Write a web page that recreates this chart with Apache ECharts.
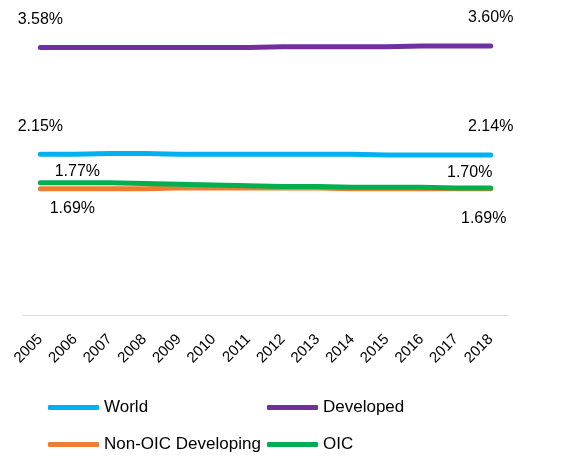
<!DOCTYPE html>
<html><head><meta charset="utf-8">
<script src="https://cdn.jsdelivr.net/npm/echarts@6/dist/echarts.min.js"></script>
<style>html,body{margin:0;padding:0;background:#fff}#c{width:564px;height:457px}</style>
</head><body><div id="c"></div>
<script>
const years = ['2005','2006','2007','2008','2009','2010','2011','2012','2013','2014','2015','2016','2017','2018'];
const world = [2.15,2.15,2.16,2.16,2.15,2.15,2.15,2.15,2.15,2.15,2.14,2.14,2.14,2.14];
const developed = [3.58,3.58,3.58,3.58,3.58,3.58,3.58,3.59,3.59,3.59,3.59,3.60,3.60,3.60];
const nonOic = [1.69,1.69,1.69,1.69,1.70,1.70,1.70,1.70,1.70,1.69,1.69,1.69,1.69,1.69];
const oic = [1.77,1.77,1.77,1.76,1.75,1.74,1.73,1.72,1.72,1.71,1.71,1.71,1.70,1.70];

const font = 'Arial, "Liberation Sans", sans-serif';
function withEndLabels(vals, startLbl, endLbl) {
  return vals.map((v, i) => {
    if (i === 0) return {value: v, label: Object.assign({show: true}, startLbl)};
    if (i === vals.length - 1) return {value: v, label: Object.assign({show: true}, endLbl)};
    return v;
  });
}
function mkSeries(name, color, data, z) {
  return {
    name, type: 'line', data, symbol: 'circle', symbolSize: 0, showSymbol: true, z,
    lineStyle: {color, width: 5, cap: 'round', join: 'round'},
    itemStyle: {color},
    label: {show: false, formatter: p => Number(p.value).toFixed(2) + '%', color: '#000', fontFamily: font, fontSize: 16},
    emphasis: {disabled: true}
  };
}
const legendBase = {orient: 'vertical', top: 399, padding: 0, height: 58, icon: 'roundRect',
  itemWidth: 51, itemHeight: 5, itemGap: 20, textStyle: {color: '#000', fontFamily: font, fontSize: 17}};
const chart = echarts.init(document.getElementById('c'));
chart.setOption({
  animation: false,
  grid: {left: 23, right: 56, top: 16, bottom: 142},
  xAxis: {
    type: 'category', data: years, boundaryGap: true,
    axisLine: {lineStyle: {color: '#d9d9d9', width: 1}},
    axisTick: {show: false},
    axisLabel: {rotate: 45, color: '#000', fontFamily: font, fontSize: 15, margin: 22, interval: 0}
  },
  yAxis: {type: 'value', min: 0, max: 4, show: false, splitLine: {show: false}},
  legend: [
    Object.assign({left: 48, data: ['World', 'Non-OIC Developing']}, legendBase),
    Object.assign({left: 267, data: ['Developed', 'OIC']}, legendBase)
  ],
  series: [
    mkSeries('World', '#00B0F0', withEndLabels(world, {position: 'top', distance: 20}, {position: 'top', distance: 20}), 4),
    mkSeries('Developed', '#7030A0', withEndLabels(developed, {position: 'top', distance: 20}, {position: 'top', distance: 20}), 4),
    mkSeries('Non-OIC Developing', '#ED7D31', withEndLabels(nonOic, {position: 'bottom', distance: 5, offset: [32, 7]}, {position: 'bottom', distance: 5, offset: [-7, 17]}), 2),
    mkSeries('OIC', '#00B050', withEndLabels(oic, {position: 'top', distance: 5, offset: [37, 2]}, {position: 'top', distance: 5, offset: [-21, -2]}), 3)
  ]
});
</script></body></html>
